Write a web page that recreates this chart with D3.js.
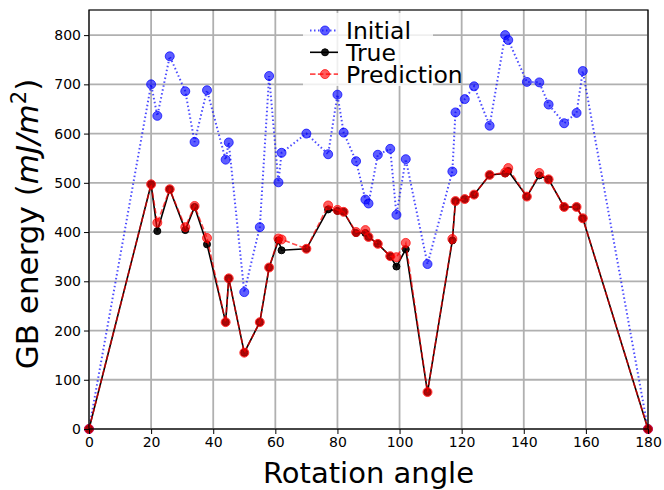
<!DOCTYPE html>
<html>
<head>
<meta charset="utf-8">
<script src="https://cdn.jsdelivr.net/npm/d3@7"></script>
<style>
  body { margin: 0; background: #fff; }
  svg { display: block; }
  .tick text { font-family: "DejaVu Sans", sans-serif; font-size: 14px; fill: #000; }
</style>
</head>
<body>
<svg id="chart" width="664" height="490"></svg>
<script>
// rotation angles (degrees)
var angles = [0, 20, 22, 26, 31, 34, 38, 44, 45, 50, 55, 58, 61, 62, 70, 77, 80, 82, 86, 89,
  90, 93, 97, 99, 102, 109, 117, 118, 121, 124, 129, 134, 135, 141, 145, 148, 153, 157, 159, 180];
var initial = [0, 700, 636, 757, 686, 583, 688, 547, 582, 278, 410, 717, 501, 561, 600, 558, 679, 602, 544, 466,
  458, 557, 569, 435, 548, 335, 523, 643, 670, 696, 616, 800, 790, 705, 704, 659, 621, 642, 727, 0];
var trueVals = [0, 497, 402, 487, 404, 451, 375, 217, 306, 155, 217, 328, 383, 363, 366, 446, 443, 441, 398, 398,
  390, 376, 351, 330, 365, 75, 383, 463, 467, 476, 516, 519, 524, 472, 515, 507, 451, 451, 428, 0];
var prediction = [0, 497, 419, 487, 410, 453, 388, 217, 306, 155, 217, 328, 387, 385, 366, 454, 445, 441, 400, 404,
  390, 376, 351, 349, 378, 75, 386, 463, 467, 476, 516, 521, 530, 472, 520, 507, 451, 451, 428, 0];
var xTicks = [0, 20, 40, 60, 80, 100, 120, 140, 160, 180];
var yTicks = [0, 100, 200, 300, 400, 500, 600, 700, 800];

(function drawChart() {
  var svg = d3.select("#chart"),
    margin = { top: 10, right: 16, bottom: 61, left: 89 },
    width = 664 - margin.left - margin.right,
    height = 490 - margin.top - margin.bottom,
    g = svg.append("g").attr("transform", "translate(" + margin.left + "," + margin.top + ")");

  var xScale = d3.scaleLinear().domain([0, 180]).range([0, width]),
    yScale = d3.scaleLinear().domain([0, 851]).range([height, 0]);

  // grid
  g.append("g")
    .selectAll("line").data(xTicks).enter().append("line")
    .attr("x1", function (d) { return xScale(d); }).attr("x2", function (d) { return xScale(d); })
    .attr("y1", 0).attr("y2", height)
    .attr("stroke", "#b0b0b0").attr("stroke-width", 1.8);
  g.append("g")
    .selectAll("line").data(yTicks).enter().append("line")
    .attr("x1", 0).attr("x2", width)
    .attr("y1", function (d) { return yScale(d); }).attr("y2", function (d) { return yScale(d); })
    .attr("stroke", "#b0b0b0").attr("stroke-width", 1.8);

  function pts(vals) {
    return angles.map(function (a, i) { return [a, vals[i]]; });
  }
  var line = d3.line()
    .x(function (d) { return xScale(d[0]); })
    .y(function (d) { return yScale(d[1]); });

  var series = [
    { name: "Initial", vals: initial, color: "blue", opacity: 0.7, dash: "1.5,2.5", r: 4.5, lw: 2 },
    { name: "True", vals: trueVals, color: "black", opacity: 1, dash: null, r: 3.5, lw: 1.6 },
    { name: "Prediction", vals: prediction, color: "red", opacity: 0.7, dash: "5.5,2.4", r: 4.5, lw: 1.6 }
  ];

  series.forEach(function (s) {
    var sg = g.append("g").attr("class", "series");
    sg.append("path")
      .datum(pts(s.vals))
      .attr("d", line)
      .attr("fill", "none")
      .attr("stroke", s.color)
      .attr("stroke-opacity", s.opacity)
      .attr("stroke-width", s.lw)
      .attr("stroke-dasharray", s.dash);
    sg.selectAll("circle")
      .data(pts(s.vals))
      .enter().append("circle")
      .attr("cx", function (d) { return xScale(d[0]); })
      .attr("cy", function (d) { return yScale(d[1]); })
      .attr("r", s.r)
      .attr("fill", s.color)
      .attr("fill-opacity", s.opacity * 0.9)
      .attr("stroke", s.color)
      .attr("stroke-opacity", s.opacity)
      .attr("stroke-width", 1);
  });

  // axes
  g.append("g")
    .attr("transform", "translate(0," + height + ")")
    .call(d3.axisBottom(xScale).tickValues(xTicks).tickSize(5).tickPadding(3).tickFormat(d3.format("d")))
    .call(function (a) { a.select(".domain").remove(); });
  g.append("g")
    .call(d3.axisLeft(yScale).tickValues(yTicks).tickSize(5).tickPadding(3).tickFormat(d3.format("d")))
    .call(function (a) { a.select(".domain").remove(); });

  // frame
  g.append("rect")
    .attr("width", width).attr("height", height)
    .attr("fill", "none").attr("stroke", "#000").attr("stroke-width", 1.2);

  // legend
  var lg = svg.append("g").attr("transform", "translate(303,13)");
  lg.append("rect")
    .attr("width", 130).attr("height", 73)
    .attr("fill", "#fff").attr("fill-opacity", 0.8);
  series.forEach(function (s, i) {
    var y = 17.5 + i * 21.8;
    lg.append("line")
      .attr("x1", 7).attr("x2", 35).attr("y1", y).attr("y2", y)
      .attr("stroke", s.color).attr("stroke-opacity", s.opacity)
      .attr("stroke-width", s.lw).attr("stroke-dasharray", s.dash);
    lg.append("circle")
      .attr("cx", 22).attr("cy", y).attr("r", s.r)
      .attr("fill", s.color).attr("fill-opacity", s.opacity * 0.9)
      .attr("stroke", s.color).attr("stroke-opacity", s.opacity);
    lg.append("text")
      .attr("x", 43).attr("y", y + 8.5)
      .attr("font-family", "'DejaVu Sans', sans-serif")
      .attr("font-size", 23.5)
      .text(s.name);
  });

  // axis labels
  svg.append("text")
    .attr("x", margin.left + width / 2).attr("y", 483)
    .attr("text-anchor", "middle")
    .attr("font-family", "'DejaVu Sans', sans-serif")
    .attr("font-size", 29)
    .text("Rotation angle");

  var yl = svg.append("text")
    .attr("transform", "translate(38,224) rotate(-90)")
    .attr("text-anchor", "middle")
    .attr("font-family", "'DejaVu Sans', sans-serif")
    .attr("font-size", 31);
  yl.append("tspan").text("GB energy (");
  yl.append("tspan").attr("font-style", "italic").text("mJ/m");
  yl.append("tspan").attr("font-size", 21).attr("dy", -12).text("2");
  yl.append("tspan").attr("dy", 12).text(")");
})();
</script>
</body>
</html>
